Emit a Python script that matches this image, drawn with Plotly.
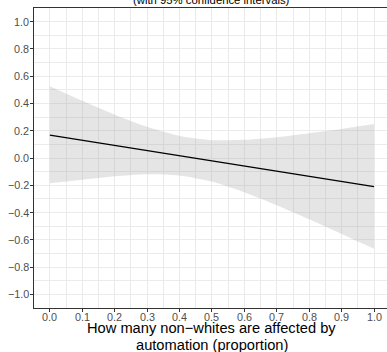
import plotly.graph_objects as go

# Data
x_vals = [0.0, 0.1, 0.2, 0.3, 0.4, 0.5, 0.6, 0.7, 0.8, 0.9, 1.0]
fit = [0.168, 0.130, 0.092, 0.055, 0.017, -0.021, -0.059, -0.097, -0.134, -0.172, -0.210]
upper = [0.527, 0.419, 0.318, 0.229, 0.162, 0.131, 0.134, 0.153, 0.182, 0.213, 0.249]
lower = [-0.185, -0.159, -0.134, -0.119, -0.128, -0.173, -0.252, -0.347, -0.450, -0.557, -0.665]

x_ticks = [0.0, 0.1, 0.2, 0.3, 0.4, 0.5, 0.6, 0.7, 0.8, 0.9, 1.0]
y_ticks = [1.0, 0.8, 0.6, 0.4, 0.2, 0.0, -0.2, -0.4, -0.6, -0.8, -1.0]

subtitle = "(with 95% confidence intervals)"
xtitle_lines = ["How many non\u2212whites are affected by", "automation (proportion)"]

FONT = "Liberation Sans, Arial, sans-serif"
TICKFONT = dict(size=10.8, color="#4D4D4D", family=FONT)

fig = go.Figure()
fig.add_trace(go.Scatter(
    x=x_vals, y=lower, mode="lines",
    line=dict(width=0, shape="spline", smoothing=0.6),
    hoverinfo="skip", showlegend=False))
fig.add_trace(go.Scatter(
    x=x_vals, y=upper, mode="lines", fill="tonexty",
    fillcolor="rgba(153,153,153,0.25)",
    line=dict(width=0, shape="spline", smoothing=0.6),
    hoverinfo="skip", showlegend=False))
fig.add_trace(go.Scatter(
    x=x_vals, y=fit, mode="lines",
    line=dict(color="black", width=1.4), showlegend=False))

grid = "#EBEBEB"
fig.update_layout(
    width=387, height=352,
    margin=dict(l=34, r=0, t=8, b=44),
    plot_bgcolor="white", paper_bgcolor="white",
    font=dict(family=FONT),
    xaxis=dict(
        range=[-0.049, 1.040], tickvals=x_ticks, showticklabels=False,
        showgrid=True, gridcolor=grid, gridwidth=1,
        minor=dict(dtick=0.05, tick0=0, showgrid=True, gridcolor=grid, gridwidth=0.6),
        showline=True, linecolor="#333333", linewidth=1, mirror=True,
        ticks="outside", ticklen=3, tickcolor="#333333", tickwidth=1,
        zeroline=False),
    yaxis=dict(
        range=[-1.1, 1.1], tickvals=y_ticks, showticklabels=False,
        showgrid=True, gridcolor=grid, gridwidth=1,
        minor=dict(dtick=0.1, tick0=0, showgrid=True, gridcolor=grid, gridwidth=0.6),
        showline=True, linecolor="#333333", linewidth=1,
        ticks="outside", ticklen=3, tickcolor="#333333", tickwidth=1,
        zeroline=False),
)

# tick labels placed as annotations to match the tight ggplot spacing
for v in x_ticks:
    fig.add_annotation(text=f"{v:.1f}", xref="x", yref="paper", x=v,
                       y=-(317.0 - 308) / 300, yanchor="middle", showarrow=False,
                       font=TICKFONT)
for v in y_ticks:
    fig.add_annotation(text=f"{v:.1f}".replace("-", "\u2212"), xref="paper", yref="y",
                       x=0, y=v, xanchor="right", xshift=-3, yanchor="middle",
                       showarrow=False, font=TICKFONT)

fig.add_annotation(text=subtitle, xref="x", yref="paper", x=0.5, y=1 + 8 / 300,
                   yanchor="middle", showarrow=False,
                   font=dict(size=11.3, color="black", family=FONT))
fig.add_annotation(text=xtitle_lines[0], xref="x", yref="paper", x=0.5,
                   y=-(328.2 - 308) / 300, yanchor="middle", showarrow=False,
                   font=dict(size=14.67, color="black", family=FONT))
fig.add_annotation(text=xtitle_lines[1], xref="x", yref="paper", x=0.5,
                   y=-(344.9 - 308) / 300, yanchor="middle", showarrow=False,
                   font=dict(size=14.67, color="black", family=FONT))

fig.write_html("out.html")
